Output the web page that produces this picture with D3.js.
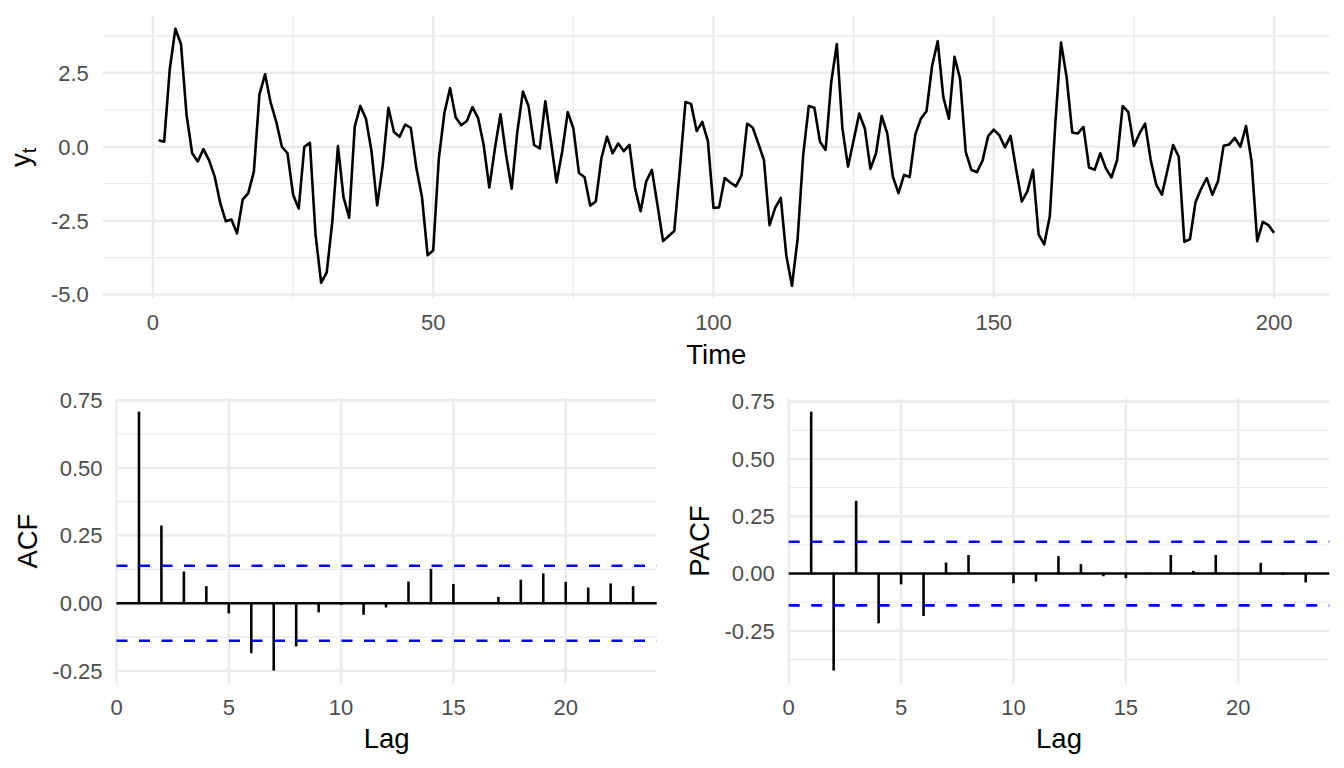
<!DOCTYPE html>
<html>
<head>
<meta charset="utf-8">
<script src="https://cdn.jsdelivr.net/npm/d3@7/dist/d3.min.js"></script>
<style>
  html, body { margin: 0; padding: 0; background: #ffffff; }
  svg { display: block; font-family: "Liberation Sans", Arial, Helvetica, sans-serif; }
</style>
</head>
<body>
<svg id="chart" width="1344" height="768"></svg>
<script>
// ---------------- data ----------------
const yt = [
  0.22, 0.17, 2.63, 3.99, 3.47, 1.06, -0.22, -0.50, -0.08, -0.45,
  -1.00, -1.90, -2.52, -2.46, -2.93, -1.79, -1.57, -0.84, 1.77, 2.45,
  1.49, 0.84, 0.00, -0.22, -1.62, -2.09, 0.00, 0.13, -2.96, -4.60,
  -4.25, -2.52, 0.02, -1.71, -2.40, 0.69, 1.38, 0.95, -0.17, -1.98,
  -0.62, 1.32, 0.50, 0.34, 0.75, 0.64, -0.73, -1.71, -3.67, -3.50,
  -0.39, 1.15, 1.98, 1.00, 0.73, 0.87, 1.34, 0.97, 0.06, -1.38,
  -0.06, 1.10, -0.28, -1.42, 0.50, 1.87, 1.38, 0.06, -0.06, 1.54,
  0.17, -1.21, -0.17, 1.17, 0.62, -0.89, -1.03, -1.99, -1.85, -0.39,
  0.34, -0.22, 0.11, -0.15, 0.06, -1.40, -2.18, -1.17, -0.78, -1.96,
  -3.19, -3.02, -2.85, -0.73, 1.51, 1.45, 0.53, 0.84, 0.19, -2.07,
  -2.05, -1.06, -1.21, -1.34, -0.97, 0.78, 0.65, 0.11, -0.45, -2.65,
  -2.07, -1.73, -3.69, -4.70, -3.13, -0.28, 1.38, 1.32, 0.17, -0.11,
  2.18, 3.47, 0.62, -0.67, 0.22, 1.12, 0.62, -0.75, -0.22, 1.04,
  0.45, -1.01, -1.57, -0.95, -1.02, 0.41, 0.95, 1.20, 2.74, 3.57,
  1.68, 0.95, 3.04, 2.29, -0.17, -0.78, -0.86, -0.47, 0.36, 0.58,
  0.39, -0.02, 0.37, -0.78, -1.85, -1.51, -0.78, -2.96, -3.30, -2.35,
  0.84, 3.52, 2.35, 0.48, 0.45, 0.67, -0.70, -0.78, -0.22, -0.73,
  -1.04, -0.45, 1.38, 1.17, 0.03, 0.45, 0.78, -0.45, -1.29, -1.62,
  -0.78, 0.06, -0.34, -3.21, -3.13, -1.87, -1.42, -1.06, -1.62, -1.17,
  0.03, 0.08, 0.30, 0.00, 0.70, -0.50, -3.19, -2.54, -2.65, -2.91
];
const time = yt.map((_, i) => i + 1);

const lags = [1,2,3,4,5,6,7,8,9,10,11,12,13,14,15,16,17,18,19,20,21,22,23];
const acfValues = [0.708, 0.287, 0.117, 0.063, -0.038, -0.185, -0.249, -0.160, -0.034, -0.006,
                   -0.043, -0.016, 0.080, 0.127, 0.071, 0.003, 0.023, 0.087, 0.110, 0.079,
                   0.058, 0.073, 0.063];
const pacfValues = [0.706, -0.423, 0.317, -0.217, -0.047, -0.185, 0.048, 0.081, 0.002, -0.042,
                    -0.035, 0.076, 0.041, -0.012, -0.020, -0.003, 0.081, 0.012, 0.081, -0.004,
                    0.047, -0.006, -0.039];
const ciBound = 0.1386;

const timeTicks = [0, 50, 100, 150, 200];
const timeMinor = [25, 75, 125, 175];
const ytTicks = [-5, -2.5, 0, 2.5];
const ytMinor = [-3.75, -1.25, 1.25, 3.75];
const lagTicks = [0, 5, 10, 15, 20];
const corTicks = [-0.25, 0, 0.25, 0.5, 0.75];
const corMinor = [-0.375, -0.125, 0.125, 0.375, 0.625];

// ---------------- helpers ----------------
const svg = d3.select("#chart");
const loc = d3.formatLocale({decimal: ".", thousands: ",", grouping: [3], currency: ["", ""], minus: "-"});
const f1 = loc.format(".1f");
const f2 = loc.format(".2f");
const GRID = "#EBEBEB";
const TICKCOL = "#4D4D4D";
const TICKSIZE = 22;
const TITLESIZE = 27.5;
const LW = 2.6;

function expand(lo, hi) { const d = (hi - lo) * 0.05; return [lo - d, hi + d]; }

function drawGrid(g, x, y, xMajor, xMinor, yMajor, yMinor) {
  const [x0, x1] = x.range();
  const [y1, y0] = y.range();
  const yMinorIn = yMinor.filter(v => y(v) >= y0 && y(v) <= y1);
  g.selectAll(".hmin").data(yMinorIn).join("line")
    .attr("x1", x0).attr("x2", x1).attr("y1", d => y(d)).attr("y2", d => y(d))
    .attr("stroke", GRID).attr("stroke-width", 1.3);
  g.selectAll(".vmin").data(xMinor).join("line")
    .attr("y1", y0).attr("y2", y1).attr("x1", d => x(d)).attr("x2", d => x(d))
    .attr("stroke", GRID).attr("stroke-width", 1.3);
  g.selectAll(".hmaj").data(yMajor).join("line")
    .attr("x1", x0).attr("x2", x1).attr("y1", d => y(d)).attr("y2", d => y(d))
    .attr("stroke", GRID).attr("stroke-width", 2.4);
  g.selectAll(".vmaj").data(xMajor).join("line")
    .attr("y1", y0).attr("y2", y1).attr("x1", d => x(d)).attr("x2", d => x(d))
    .attr("stroke", GRID).attr("stroke-width", 2.4);
}

function drawAxes(g, x, y, xTicks, yTicks, yFmt, xBase) {
  const [x0] = x.range();
  g.selectAll(".ylab").data(yTicks).join("text")
    .attr("x", x0 - 14).attr("y", d => y(d) + 0.358 * TICKSIZE)
    .attr("text-anchor", "end").attr("font-size", TICKSIZE).attr("fill", TICKCOL)
    .text(d => yFmt(d));
  g.selectAll(".xlab").data(xTicks).join("text")
    .attr("x", d => x(d)).attr("y", xBase)
    .attr("text-anchor", "middle").attr("font-size", TICKSIZE).attr("fill", TICKCOL)
    .text(d => d);
}

// ---------------- top panel: time series ----------------
{
  const g = svg.append("g");
  const x = d3.scaleLinear().domain(expand(d3.min(time), d3.max(time))).range([102.8, 1329.8]);
  const y = d3.scaleLinear().domain(expand(d3.min(yt), d3.max(yt))).range([298.6, 15.9]);
  drawGrid(g, x, y, timeTicks, timeMinor, ytTicks, ytMinor);
  const line = d3.line().x((d, i) => x(time[i])).y(d => y(d));
  g.append("path").datum(yt).attr("d", line)
    .attr("fill", "none").attr("stroke", "#000").attr("stroke-width", LW)
    .attr("stroke-linejoin", "round");
  drawAxes(g, x, y, timeTicks, ytTicks, f1, 330);
  g.append("text").attr("x", (x.range()[0] + x.range()[1]) / 2).attr("y", 364)
    .attr("text-anchor", "middle").attr("font-size", TITLESIZE).attr("fill", "#000").text("Time");
  const yc = (y.range()[0] + y.range()[1]) / 2;
  const t = g.append("text").attr("transform", `translate(30,${yc}) rotate(-90)`)
    .attr("text-anchor", "middle").attr("font-size", TITLESIZE).attr("fill", "#000");
  t.append("tspan").text("y");
  t.append("tspan").attr("font-size", TITLESIZE * 0.72).attr("dy", 6).text("t");
}

// ---------------- bottom panels: ACF / PACF ----------------
function corrPanel(values, xr, title, titleX) {
  const g = svg.append("g");
  const x = d3.scaleLinear().domain([0, 24.05]).range(xr);
  const y = d3.scaleLinear().domain(expand(d3.min(values), d3.max(values))).range([683.5, 398.7]);
  drawGrid(g, x, y, lagTicks, [], corTicks, corMinor);
  g.append("line").attr("x1", xr[0]).attr("x2", xr[1]).attr("y1", y(0)).attr("y2", y(0))
    .attr("stroke", "#000").attr("stroke-width", LW);
  g.selectAll(".seg").data(values).join("line")
    .attr("x1", (d, i) => x(lags[i])).attr("x2", (d, i) => x(lags[i]))
    .attr("y1", y(0)).attr("y2", d => y(d))
    .attr("stroke", "#000").attr("stroke-width", LW);
  g.selectAll(".ci").data([ciBound, -ciBound]).join("line")
    .attr("x1", xr[0]).attr("x2", xr[1]).attr("y1", d => y(d)).attr("y2", d => y(d))
    .attr("stroke", "#0000FF").attr("stroke-width", LW).attr("stroke-dasharray", "11,11.5");
  drawAxes(g, x, y, lagTicks, corTicks, f2, 715);
  g.append("text").attr("x", (xr[0] + xr[1]) / 2).attr("y", 748)
    .attr("text-anchor", "middle").attr("font-size", TITLESIZE).attr("fill", "#000").text("Lag");
  const yc = (y.range()[0] + y.range()[1]) / 2;
  g.append("text").attr("transform", `translate(${titleX},${yc}) rotate(-90)`)
    .attr("text-anchor", "middle").attr("font-size", TITLESIZE).attr("fill", "#000").text(title);
}

corrPanel(acfValues, [116.5, 656.7], "ACF", 36.5);
corrPanel(pacfValues, [788.7, 1329.3], "PACF", 708.5);
</script>
</body>
</html>
